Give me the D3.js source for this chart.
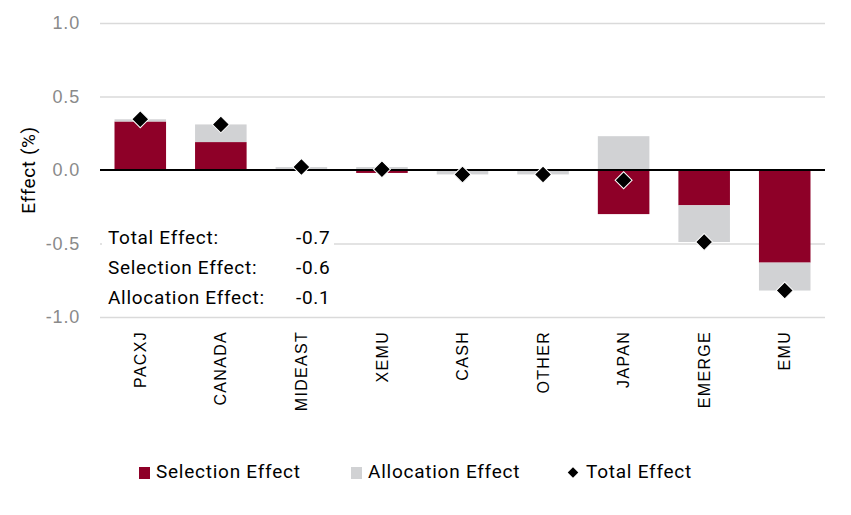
<!DOCTYPE html>
<html>
<head>
<meta charset="utf-8">
<script src="https://cdn.jsdelivr.net/npm/d3@7"></script>
<style>
  body { margin: 0; background: #fff; }
  svg { font-family: Roboto, "DejaVu Sans", sans-serif; }
</style>
</head>
<body>
<svg id="chart" width="851" height="515"></svg>
<script>
// data
var categories = ['PACXJ', 'CANADA', 'MIDEAST', 'XEMU', 'CASH', 'OTHER', 'JAPAN', 'EMERGE', 'EMU'];
var selection  = [0.33, 0.19, 0.00, -0.02, 0.00, 0.00, -0.30, -0.24, -0.63];
var allocation = [0.015, 0.12, 0.02, 0.02, -0.03, -0.03, 0.23, -0.25, -0.19];
var total      = [0.345, 0.31, 0.02, 0.005, -0.03, -0.03, -0.07, -0.49, -0.82];
var yTicks = [-1.0, -0.5, 0.0, 0.5, 1.0];
var summaryLabels = ['Total Effect:', 'Selection Effect:', 'Allocation Effect:'];
var summaryValues = ['-0.7', '-0.6', '-0.1'];
var seriesNames = ['Selection Effect', 'Allocation Effect', 'Total Effect'];

var RED = '#8e0028', GREY = '#d1d2d4';

var svg = d3.select('#chart');
var m_left = 100, m_right = 825, m_top = 23, m_bottom = 317;

var x = d3.scaleBand().domain(categories).range([m_left, m_right]).paddingInner(0.36).paddingOuter(0.18);
var y = d3.scaleLinear().domain([-1, 1]).range([m_bottom, m_top]);

// gridlines + y ticks
var yAxis = svg.append('g').attr('transform', 'translate(' + m_left + ',0)')
    .call(d3.axisLeft(y).tickValues(yTicks).tickSize(-(m_right - m_left)).tickPadding(20)
        .tickFormat(function(d){ return d.toFixed(1); }));
yAxis.select('.domain').remove();
yAxis.selectAll('line').attr('stroke', '#dadada').attr('stroke-width', 1.5)
    .filter(function(d){ return d === 0; }).remove();
yAxis.selectAll('text').attr('fill', '#8a8a8a').style('font-size', '18px').attr('letter-spacing', '0.8px');

// stacked bars
var rows = categories.map(function(c, i){ return { cat: c, sel: selection[i], alloc: allocation[i] }; });
var stack = d3.stack().keys(['sel', 'alloc']).offset(d3.stackOffsetDiverging)(rows);
var colors = { sel: RED, alloc: GREY };

svg.append('g').selectAll('g').data(stack).join('g')
    .attr('fill', function(s){ return colors[s.key]; })
    .selectAll('rect').data(function(s){ return s; }).join('rect')
    .attr('x', function(d){ return x(d.data.cat); })
    .attr('width', x.bandwidth())
    .attr('y', function(d){ return y(Math.max(d[0], d[1])); })
    .attr('height', function(d){ return Math.abs(y(d[0]) - y(d[1])); });

// zero line
svg.append('line').attr('x1', m_left).attr('x2', m_right).attr('y1', y(0)).attr('y2', y(0))
    .attr('stroke', '#000').attr('stroke-width', 2);

// total effect diamonds
var diamond = d3.symbol().type(d3.symbolSquare).size(144);
svg.append('g').selectAll('path').data(total).join('path')
    .attr('d', diamond)
    .attr('transform', function(d, i){ return 'translate(' + (x(categories[i]) + x.bandwidth() / 2) + ',' + y(d) + ') rotate(45)'; })
    .attr('fill', '#000').attr('stroke', '#fff').attr('stroke-width', 1);

// x labels
var xAxis = svg.append('g').attr('transform', 'translate(0,' + (m_bottom + 14) + ')')
    .call(d3.axisBottom(x).tickSize(0).tickPadding(0));
xAxis.select('.domain').remove();
xAxis.selectAll('text')
    .attr('transform', 'rotate(-90)')
    .attr('text-anchor', 'end')
    .attr('x', 0).attr('y', 0).attr('dy', '0.35em')
    .attr('fill', '#000').style('font-size', '16px').attr('letter-spacing', '1.3px');

// y title
svg.append('text').attr('transform', 'translate(35,' + y(0) + ') rotate(-90)')
    .attr('text-anchor', 'middle').style('font-size', '19px').attr('fill', '#000')
    .attr('letter-spacing', '0.6px')
    .text('Effect (%)');

// summary box
var box = svg.append('g');
box.append('rect').attr('x', m_left + 2).attr('y', 222).attr('width', 232).attr('height', 90).attr('fill', '#fff');
summaryLabels.forEach(function(lab, i){
    var yy = 244 + i * 30;
    box.append('text').attr('x', 108).attr('y', yy).style('font-size', '19px').attr('letter-spacing', '0.7px').text(lab);
    box.append('text').attr('x', 296).attr('y', yy).style('font-size', '19px').attr('letter-spacing', '0.7px').text(summaryValues[i]);
});

// legend
var legend = svg.append('g');
var lx = [139, 351, 573];
legend.append('rect').attr('x', lx[0]).attr('y', 467).attr('width', 11).attr('height', 12).attr('fill', RED);
legend.append('rect').attr('x', lx[1]).attr('y', 467).attr('width', 11).attr('height', 12).attr('fill', GREY);
legend.append('path').attr('d', d3.symbol().type(d3.symbolSquare).size(55))
    .attr('transform', 'translate(' + lx[2] + ',472.5) rotate(45)').attr('fill', '#000');
seriesNames.forEach(function(n, i){
    legend.append('text').attr('x', lx[i] + (i === 2 ? 13 : 17)).attr('y', 478)
        .style('font-size', '19px').attr('letter-spacing', '0.75px').text(n);
});
</script>
</body>
</html>
